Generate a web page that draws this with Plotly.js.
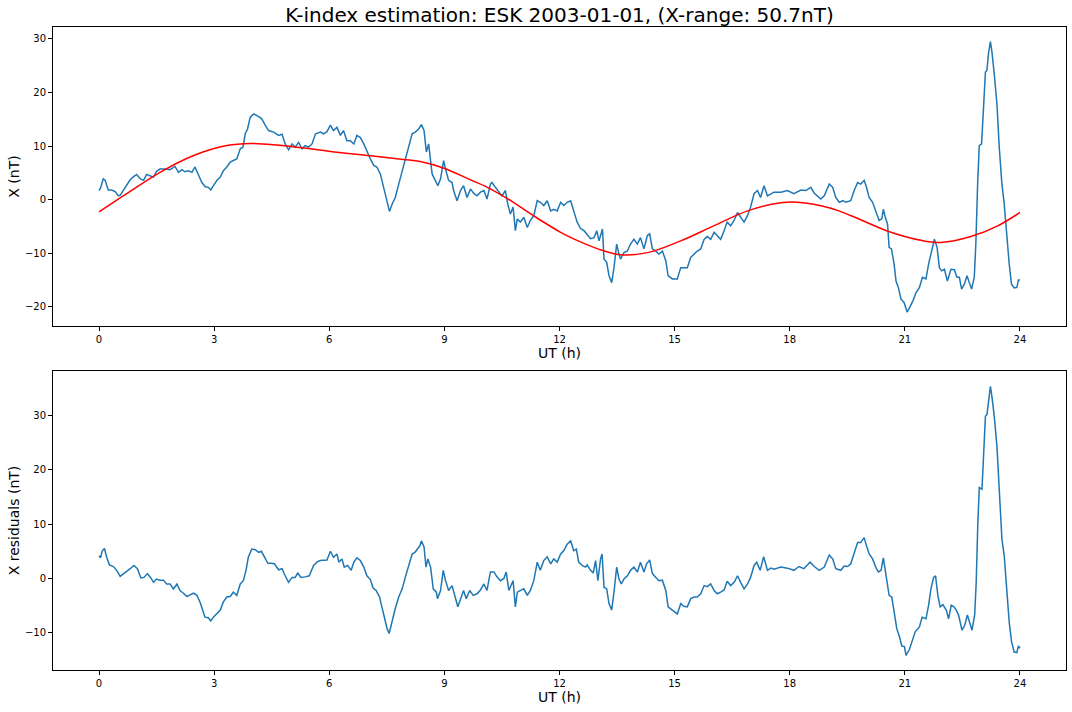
<!DOCTYPE html>
<html>
<head>
<meta charset="utf-8">
<script src="https://cdn.plot.ly/plotly-3.0.1.min.js"></script>
<style>html,body{margin:0;padding:0;background:#fff;}#chart{width:1072px;height:712px;}</style>
</head>
<body>
<div id="chart"></div>
<script>
// Observed X component (UT hours, nT)
const tX = [0,0.04,0.11,0.16,0.24,0.33,0.42,0.5,0.55,0.63,0.72,0.81,0.9,0.98,1.07,1.16,1.24,1.33,1.42,1.5,1.59,1.72,1.85,1.98,2.07,2.16,2.24,2.33,2.42,2.5,2.59,2.68,2.77,2.85,2.91,2.98,3.07,3.16,3.24,3.33,3.42,3.5,3.59,3.68,3.75,3.81,3.87,3.94,4.03,4.16,4.24,4.33,4.42,4.55,4.68,4.77,4.85,4.94,5.03,5.11,5.2,5.29,5.37,5.46,5.55,5.64,5.77,5.85,5.94,6.03,6.11,6.2,6.29,6.37,6.46,6.55,6.64,6.72,6.81,6.9,6.98,7.07,7.16,7.24,7.33,7.42,7.51,7.57,7.64,7.72,7.81,7.9,7.98,8.07,8.16,8.24,8.33,8.4,8.47,8.53,8.59,8.68,8.77,8.83,8.9,8.98,9.03,9.11,9.2,9.24,9.33,9.42,9.5,9.59,9.68,9.77,9.85,9.94,10.03,10.11,10.2,10.24,10.33,10.42,10.5,10.59,10.65,10.72,10.79,10.85,10.9,10.98,11.07,11.16,11.24,11.33,11.42,11.5,11.59,11.68,11.77,11.85,11.94,12.03,12.11,12.2,12.29,12.37,12.46,12.55,12.64,12.72,12.81,12.9,12.97,13.03,13.12,13.16,13.23,13.29,13.36,13.42,13.49,13.55,13.59,13.68,13.77,13.85,13.94,14.03,14.11,14.2,14.29,14.35,14.42,14.51,14.59,14.68,14.77,14.83,14.94,15.07,15.16,15.24,15.33,15.42,15.51,15.59,15.68,15.77,15.85,15.94,16.03,16.11,16.2,16.29,16.37,16.46,16.55,16.64,16.72,16.81,16.9,16.98,17.07,17.16,17.24,17.33,17.42,17.51,17.59,17.77,17.94,18.11,18.29,18.42,18.55,18.64,18.81,18.9,19.03,19.12,19.2,19.29,19.38,19.46,19.59,19.68,19.77,19.85,19.94,20.0,20.07,20.16,20.24,20.33,20.4,20.44,20.49,20.55,20.59,20.65,20.72,20.77,20.83,20.9,20.98,21.06,21.12,21.21,21.29,21.38,21.46,21.55,21.62,21.68,21.77,21.84,21.9,21.96,22.03,22.11,22.2,22.29,22.36,22.42,22.48,22.55,22.62,22.68,22.74,22.81,22.85,22.9,22.94,23.0,23.05,23.1,23.14,23.18,23.23,23.27,23.33,23.4,23.46,23.53,23.59,23.66,23.72,23.78,23.85,23.92,23.96,24.0];
const X = [1.7,2.2,3.9,3.6,1.8,1.8,1.5,0.75,0.8,1.7,2.6,3.7,4.3,4.7,3.9,3.6,4.7,4.5,4.2,5.3,5.7,5.7,5.6,6.2,5.1,5.6,5.2,5.4,5.1,6.1,4.8,3.2,2.4,2.3,1.8,2.6,3.6,4.2,5.4,6.1,7.0,7.3,7.6,9.5,9.8,12.3,13.2,15.4,16.0,15.5,15.1,13.9,12.9,12.6,12.0,12.2,10.4,9.3,10.4,9.8,10.7,9.5,10.1,9.8,10.4,12.3,12.6,12.3,12.7,13.9,12.9,13.5,12.0,12.9,11.0,11.0,10.4,12.0,11.6,10.4,8.9,7.6,6.4,6.1,4.8,2.3,-0.2,-2.2,-0.8,0.4,2.9,5.4,7.3,9.8,12.3,12.6,13.2,14.0,12.9,8.9,10.4,4.8,3.6,2.6,3.9,7.3,5.7,3.6,3.2,1.7,-0.2,1.7,2.6,0.4,2.0,1.1,0.7,1.4,1.7,0.1,2.9,3.2,2.3,1.4,0.7,1.7,-0.8,-2.7,-1.4,-5.8,-3.6,-4.2,-3.3,-5.2,-3.9,-3.0,-0.2,-0.5,-1.1,-0.2,-2.1,-1.8,-2.1,-0.5,-1.1,-0.5,-0.2,-2.1,-4.2,-5.4,-5.8,-6.5,-7.3,-7.1,-5.8,-7.7,-5.5,-11.1,-11.7,-14.2,-15.5,-12.7,-8.3,-10.2,-11.1,-9.9,-9.6,-8.3,-7.4,-8.3,-7.1,-9.2,-6.7,-6.4,-9.2,-9.6,-10.2,-9.6,-11.4,-14.2,-14.8,-14.8,-12.7,-12.7,-12.7,-10.8,-10.2,-9.6,-9.2,-7.4,-6.9,-7.4,-6.1,-6.7,-7.4,-5.8,-4.2,-4.9,-3.9,-2.4,-3.3,-4.2,-3.0,-1.4,1.1,1.7,0.4,2.6,0.7,1.1,1.4,1.4,1.7,1.1,1.8,1.7,2.3,1.2,0.1,0.7,2.9,2.3,0.4,-0.5,-0.2,-0.5,-0.2,1.7,3.2,2.9,3.6,2.3,0.4,-0.5,-2.1,-3.9,-3.6,-1.8,-3.3,-4.6,-8.9,-9.2,-12.0,-15.2,-16.4,-18.6,-19.2,-21.0,-20.2,-18.9,-17.4,-16.4,-14.5,-14.8,-12.0,-9.9,-7.4,-8.9,-12.7,-13.3,-13.0,-15.2,-13.0,-13.1,-14.5,-14.5,-16.7,-15.8,-14.2,-15.5,-16.7,-14.5,-8.3,3.6,10.1,10.4,17.3,23.8,24.2,27.3,29.5,27.6,23.5,17.9,9.8,2.9,-0.8,-7.1,-12.0,-15.8,-16.5,-16.4,-15.0,-15.0];

// Fitted smooth curve (UT hours, nT)
const tFit = [0,0.72,1.59,2.45,3.33,3.94,4.64,5.5,6.03,7.07,7.93,8.37,8.97,9.68,10.12,10.64,11.32,12.03,12.55,13.0,13.59,14.3,15.16,16.02,16.9,17.77,18.2,19.07,19.6,20.56,21.42,21.94,22.72,23.42,24.0];
const fitX = [-2.3,1.1,5.1,8.2,10.1,10.5,10.2,9.5,9.0,8.2,7.5,7.1,5.9,3.7,2.3,0.2,-3.0,-6.1,-7.9,-9.2,-10.3,-9.9,-7.7,-4.9,-2.1,-0.6,-0.5,-1.6,-3.0,-5.9,-7.6,-8.0,-6.9,-4.9,-2.4];

// Residuals (UT hours, nT)
const tRes = [0,0.04,0.08,0.14,0.2,0.27,0.375,0.46,0.55,0.63,0.72,0.81,0.91,1.0,1.09,1.17,1.26,1.35,1.42,1.5,1.59,1.68,1.76,1.85,1.94,2.03,2.11,2.2,2.29,2.37,2.46,2.55,2.63,2.7,2.76,2.85,2.91,2.98,3.07,3.16,3.24,3.33,3.42,3.5,3.59,3.68,3.76,3.83,3.89,3.98,4.07,4.16,4.23,4.31,4.4,4.48,4.57,4.68,4.77,4.85,4.94,5.03,5.11,5.18,5.26,5.37,5.48,5.59,5.68,5.76,5.85,5.94,6.03,6.11,6.2,6.25,6.33,6.39,6.48,6.57,6.64,6.72,6.81,6.9,6.98,7.07,7.14,7.22,7.31,7.37,7.44,7.51,7.56,7.64,7.72,7.81,7.9,7.98,8.07,8.16,8.23,8.29,8.36,8.4,8.47,8.52,8.57,8.64,8.71,8.79,8.82,8.9,8.97,9.03,9.11,9.2,9.27,9.35,9.44,9.5,9.57,9.66,9.75,9.85,9.94,10.03,10.11,10.2,10.29,10.37,10.46,10.55,10.61,10.68,10.79,10.85,10.9,10.99,11.07,11.16,11.24,11.33,11.42,11.5,11.59,11.68,11.77,11.85,11.94,12.03,12.11,12.2,12.29,12.37,12.44,12.5,12.59,12.68,12.72,12.81,12.88,12.94,13.0,13.07,13.11,13.16,13.23,13.29,13.36,13.42,13.49,13.55,13.61,13.68,13.77,13.85,13.94,14.03,14.11,14.2,14.27,14.35,14.42,14.51,14.59,14.68,14.77,14.83,14.94,15.07,15.16,15.24,15.33,15.42,15.51,15.59,15.68,15.77,15.85,15.94,16.03,16.11,16.2,16.29,16.37,16.46,16.55,16.64,16.72,16.81,16.9,16.98,17.07,17.14,17.23,17.32,17.42,17.51,17.59,17.77,17.94,18.11,18.24,18.37,18.53,18.64,18.77,18.9,19.03,19.12,19.2,19.33,19.42,19.51,19.59,19.68,19.77,19.85,19.94,20.0,20.07,20.16,20.24,20.31,20.38,20.44,20.5,20.59,20.66,20.72,20.79,20.86,20.92,20.99,21.03,21.12,21.2,21.27,21.38,21.45,21.55,21.62,21.68,21.75,21.8,21.86,21.92,21.99,22.08,22.14,22.21,22.28,22.34,22.4,22.49,22.56,22.63,22.69,22.75,22.82,22.86,22.9,22.94,23.01,23.05,23.1,23.14,23.18,23.23,23.27,23.33,23.4,23.46,23.53,23.59,23.66,23.72,23.78,23.85,23.92,23.96,24.0];
const res = [4.2,3.8,5.0,5.5,3.9,2.5,2.2,1.5,0.4,0.9,1.3,1.8,2.4,1.8,0.1,0.2,0.9,0.1,-0.7,-0.1,-0.3,-0.3,-1.0,-1.0,-1.9,-1.0,-2.2,-2.7,-3.3,-3.0,-2.7,-3.1,-4.3,-5.8,-7.1,-7.2,-7.8,-7.1,-6.5,-5.8,-4.3,-3.4,-3.3,-2.5,-3.1,-1.0,-0.4,1.5,3.9,5.4,5.3,4.8,5.0,3.9,2.8,2.8,2.7,1.6,1.8,0.5,-0.7,0.2,0.2,1.0,0.2,0.3,0.5,2.4,3.0,3.3,3.3,3.4,5.0,3.9,4.5,3.0,3.6,2.1,2.4,1.5,3.0,3.8,3.3,2.1,0.5,-0.2,-1.7,-2.2,-3.4,-5.2,-6.8,-9.3,-10.1,-7.7,-5.5,-3.4,-1.9,0.2,2.4,4.5,4.8,5.4,6.0,6.9,5.8,2.1,3.6,2.1,-1.9,-2.5,-3.7,-2.2,1.5,-0.4,-2.2,-1.3,-3.4,-5.2,-3.4,-2.2,-3.7,-2.2,-3.1,-2.8,-2.1,-1.0,-2.2,1.2,1.2,0.3,-0.4,0.0,1.2,-2.2,-0.4,-5.2,-2.5,-2.2,-1.9,-3.1,-2.2,-0.4,3.0,1.5,3.3,4.0,2.7,3.6,3.0,4.5,5.1,6.3,6.9,5.1,5.4,3.0,2.4,2.1,2.5,1.5,1.0,3.3,-0.4,3.6,4.5,-1.6,-1.9,-4.6,-5.8,-2.5,2.1,-0.1,-1.0,-0.1,0.5,1.5,2.1,1.2,3.0,1.2,2.7,3.4,0.9,0.2,-0.4,-0.3,-2.2,-5.2,-5.8,-6.5,-4.6,-5.1,-5.2,-3.7,-3.4,-3.4,-2.8,-1.3,-1.5,-1.0,-2.2,-2.8,-2.5,-2.1,-0.5,-1.3,-0.7,0.5,-0.7,-1.9,-1.0,0.2,2.4,3.0,1.5,4.0,1.5,1.9,1.7,2.1,1.9,1.5,2.2,1.8,3.0,2.2,1.5,2.1,4.3,3.6,1.8,1.5,2.3,2.2,2.7,4.8,6.6,6.6,7.5,6.0,4.5,3.6,2.1,1.2,1.5,3.8,1.2,-3.1,-3.4,-6.2,-9.2,-10.7,-12.4,-12.5,-14.1,-13.0,-11.1,-9.8,-8.9,-7.1,-7.4,-4.9,-1.9,0.2,0.5,-3.1,-5.2,-4.8,-5.8,-7.4,-4.9,-5.2,-5.8,-6.7,-9.5,-8.6,-6.7,-8.3,-9.5,-6.7,-0.7,9.7,16.7,16.4,23.1,29.8,30.1,32.8,35.3,33.4,29.8,24.3,16.4,7.2,4.2,-2.5,-8.0,-11.6,-13.5,-13.6,-12.4,-12.8];

const xTicks = [0,3,6,9,12,15,18,21,24];
const titleText = 'K-index estimation: ESK 2003-01-01, (X-range: 50.7nT)';

const FONT = 'DejaVu Sans, Liberation Sans, sans-serif';
const BLUE = '#1f77b4';

const axisCommon = {
  showline: true, mirror: true, linecolor: '#000', linewidth: 1,
  ticks: 'outside', ticklen: 4, tickwidth: 1, tickcolor: '#000',
  showgrid: false, zeroline: false,
  tickfont: {family: FONT, size: 10, color: '#000'}
};

const traces = [
  {x: tX, y: X, type: 'scatter', mode: 'lines', line: {color: BLUE, width: 1.5}, xaxis: 'x', yaxis: 'y', hoverinfo: 'skip'},
  {x: tFit, y: fitX, type: 'scatter', mode: 'lines', line: {color: '#ff0000', width: 1.5, shape: 'spline', smoothing: 1}, xaxis: 'x', yaxis: 'y', hoverinfo: 'skip'},
  {x: tRes, y: res, type: 'scatter', mode: 'lines', line: {color: BLUE, width: 1.5}, xaxis: 'x2', yaxis: 'y2', hoverinfo: 'skip'}
];

const layout = {
  width: 1072, height: 712,
  margin: {l: 53, r: 6, t: 27, b: 42},
  paper_bgcolor: '#fff', plot_bgcolor: '#fff',
  showlegend: false,
  font: {family: FONT, color: '#000'},
  title: {text: titleText, font: {family: FONT, size: 20, color: '#000'},
          x: 0.5, xref: 'paper', xanchor: 'center', y: 1 - 15/712, yref: 'container', yanchor: 'middle'},
  xaxis: Object.assign({}, axisCommon, {domain: [0, 1], anchor: 'y', range: [-1.2, 25.2], tickvals: xTicks,
    title: {text: 'UT (h)', font: {family: FONT, size: 14, color: '#000'}, standoff: 4}}),
  yaxis: Object.assign({}, axisCommon, {domain: [344/643, 1], anchor: 'x', range: [-23.6, 32.24], dtick: 10,
    title: {text: 'X (nT)', font: {family: FONT, size: 14, color: '#000'}, standoff: 1}}),
  xaxis2: Object.assign({}, axisCommon, {domain: [0, 1], anchor: 'y2', range: [-1.2, 25.2], tickvals: xTicks,
    title: {text: 'UT (h)', font: {family: FONT, size: 14, color: '#000'}, standoff: 4}}),
  yaxis2: Object.assign({}, axisCommon, {domain: [0, 299/643], anchor: 'x2', range: [-16.8, 38.1], dtick: 10,
    title: {text: 'X residuals (nT)', font: {family: FONT, size: 14, color: '#000'}, standoff: 1}})
};

Plotly.newPlot('chart', traces, layout, {displayModeBar: false, staticPlot: true});
</script>
</body>
</html>
